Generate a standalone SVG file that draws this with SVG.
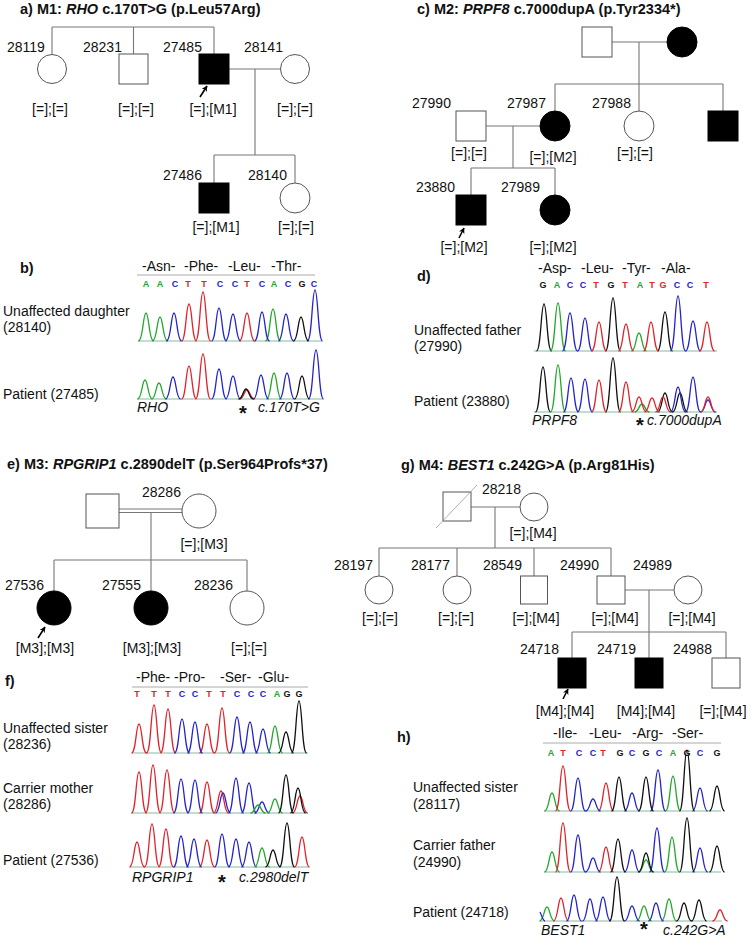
<svg xmlns="http://www.w3.org/2000/svg" width="751" height="940" viewBox="0 0 751 940">
<style>
text{font-family:"Liberation Sans",Arial,sans-serif;font-size:14px;fill:#111}
.ti{font-weight:bold;font-size:14.5px}
.it{font-style:italic}
.m{text-anchor:middle}
.bs{font-size:9px;font-weight:bold;text-anchor:middle}
.ast{font-size:20px;font-weight:bold;text-anchor:middle}
.sym{fill:#fff;stroke:#555;stroke-width:1}
.aff{fill:#000;stroke:#000;stroke-width:1}
.ln{stroke:#777;stroke-width:1.1;fill:none}
.sep{stroke:#aaa;stroke-width:1;fill:none}
.pk{fill:none;stroke-width:1.3;stroke-linejoin:round}
.G{stroke:#22a82a}.R{stroke:#e0232b}.B{stroke:#2424cc}.K{stroke:#111}
.g{fill:#22a82a}.r{fill:#e0232b}.b{fill:#2424cc}.k{fill:#111}
.bl{stroke:#6a8;stroke-width:0.8}
.arr{stroke:#000;stroke-width:1.6;fill:none}
</style>
<defs>
<marker id="ah" viewBox="0 0 10 10" refX="9" refY="5" markerWidth="6" markerHeight="6" markerUnits="userSpaceOnUse" orient="auto"><path d="M0 0L10 5L0 10L3 5z" fill="#000"/></marker>
</defs>

<!-- Panel titles -->
<g id="titles">
<text class="ti" x="20" y="14">a) M1: <tspan font-style="italic">RHO</tspan> c.170T&gt;G (p.Leu57Arg)</text>
<text class="ti" x="417" y="14">c) M2: <tspan font-style="italic">PRPF8</tspan> c.7000dupA (p.Tyr2334*)</text>
<text class="ti" x="7" y="469">e) M3: <tspan font-style="italic">RPGRIP1</tspan> c.2890delT (p.Ser964Profs*37)</text>
<text class="ti" x="401" y="470">g) M4: <tspan font-style="italic">BEST1</tspan> c.242G&gt;A (p.Arg81His)</text>
<text class="ti" x="20" y="273">b)</text>
<text class="ti" x="417" y="281">d)</text>
<text class="ti" x="5" y="686">f)</text>
<text class="ti" x="397" y="742">h)</text>
</g>

<!-- Connectors -->
<g id="connectors" class="ln">
<!-- a -->
<path d="M52 27H214M52 27V54.5M133.5 27V54M214 27V54"/>
<path d="M229 69H280.5M255 69V155M214 155H295M214 155V183M295 155V183"/>
<!-- c -->
<path d="M612 42H667M639 42V84M555 84H723M555 84V111M639 84V111M723 84V111"/>
<path d="M486 126H540M513 126V168M471 168H555M471 168V195M555 168V195"/>
<!-- e -->
<path d="M119 509H182M119 512.5H182M151 512.5V560M54 560H247M54 560V591M151 560V591M247 560V591"/>
<!-- g -->
<path d="M471 507H520M495 507V548M379 548H611M379 548V576M457 548V576M534 548V576M611 548V576"/>
<path d="M625 590H674M649 590V632M572 632H726M572 632V658M649 632V658M726 632V658"/>
</g>

<!-- Panel a nodes -->
<g id="a-28119"><circle class="sym" cx="52" cy="69" r="14.5"/><text x="7" y="52">28119</text><text class="m" x="50" y="114">[=];[=]</text></g>
<g id="a-28231"><rect class="sym" x="119" y="54" width="29" height="30"/><text x="83" y="52">28231</text><text class="m" x="136" y="114">[=];[=]</text></g>
<g id="a-27485"><rect class="aff" x="199" y="54" width="30" height="30"/><text x="163" y="52">27485</text><text class="m" x="213" y="114">[=];[M1]</text><line class="arr" x1="200" y1="97" x2="207" y2="86" marker-end="url(#ah)"/></g>
<g id="a-28141"><circle class="sym" cx="295" cy="69" r="14.5"/><text x="244" y="52">28141</text><text class="m" x="295" y="114">[=];[=]</text></g>
<g id="a-27486"><rect class="aff" x="199" y="183" width="30" height="30"/><text x="163" y="180">27486</text><text class="m" x="216" y="232">[=];[M1]</text></g>
<g id="a-28140"><circle class="sym" cx="295" cy="198" r="15"/><text x="248" y="180">28140</text><text class="m" x="296" y="232">[=];[=]</text></g>

<!-- Panel c nodes -->
<g id="c-grandfather"><rect class="sym" x="582" y="27" width="30" height="30"/></g>
<g id="c-grandmother"><circle class="aff" cx="682" cy="42" r="15"/></g>
<g id="c-27990"><rect class="sym" x="456" y="111" width="30" height="30"/><text x="412" y="108">27990</text><text class="m" x="469" y="158">[=];[=]</text></g>
<g id="c-27987"><circle class="aff" cx="555" cy="126" r="15"/><text x="507" y="108">27987</text><text class="m" x="553" y="162">[=];[M2]</text></g>
<g id="c-27988"><circle class="sym" cx="639" cy="126" r="15"/><text x="592" y="108">27988</text><text class="m" x="635" y="158">[=];[=]</text></g>
<g id="c-uncle"><rect class="aff" x="708" y="111" width="30" height="30"/></g>
<g id="c-23880"><rect class="aff" x="456" y="195" width="30" height="30"/><text x="416" y="192">23880</text><text class="m" x="464" y="252">[=];[M2]</text><line class="arr" x1="459" y1="238" x2="464" y2="228" marker-end="url(#ah)"/></g>
<g id="c-27989"><circle class="aff" cx="555" cy="210" r="15"/><text x="501" y="192">27989</text><text class="m" x="553" y="252">[=];[M2]</text></g>

<!-- Panel e nodes -->
<g id="e-father"><rect class="sym" x="86" y="494" width="33" height="34"/></g>
<g id="e-28286"><circle class="sym" cx="199" cy="511" r="17"/><text x="142" y="497">28286</text><text class="m" x="204" y="549">[=];[M3]</text></g>
<g id="e-27536"><circle class="aff" cx="54" cy="608" r="17"/><text x="5" y="590">27536</text><text class="m" x="45" y="653">[M3];[M3]</text><line class="arr" x1="38" y1="638" x2="45" y2="627" marker-end="url(#ah)"/></g>
<g id="e-27555"><circle class="aff" cx="151" cy="608" r="17"/><text x="102" y="590">27555</text><text class="m" x="152" y="653">[M3];[M3]</text></g>
<g id="e-28236"><circle class="sym" cx="247" cy="608" r="17"/><text x="194" y="590">28236</text><text class="m" x="249" y="653">[=];[=]</text></g>

<!-- Panel g nodes -->
<g id="g-grandfather"><rect class="sym" x="443" y="492" width="28" height="29"/><line x1="436" y1="528" x2="477" y2="485" stroke="#999" stroke-width="0.8"/></g>
<g id="g-28218"><circle class="sym" cx="534" cy="507" r="14"/><text x="482" y="494">28218</text><text class="m" x="533" y="538">[=];[M4]</text></g>
<g id="g-28197"><circle class="sym" cx="379" cy="590" r="14"/><text x="334" y="570">28197</text><text class="m" x="380" y="623">[=];[=]</text></g>
<g id="g-28177"><circle class="sym" cx="457" cy="590" r="14"/><text x="411" y="570">28177</text><text class="m" x="456" y="623">[=];[=]</text></g>
<g id="g-28549"><rect class="sym" x="520.5" y="576" width="27" height="28"/><text x="483" y="570">28549</text><text class="m" x="536" y="623">[=];[M4]</text></g>
<g id="g-24990"><rect class="sym" x="597" y="576" width="28" height="28"/><text x="560" y="570">24990</text><text class="m" x="615" y="623">[=];[M4]</text></g>
<g id="g-24989"><circle class="sym" cx="688" cy="590" r="14"/><text x="633" y="570">24989</text><text class="m" x="692" y="623">[=];[M4]</text></g>
<g id="g-24718"><rect class="aff" x="558" y="658" width="28" height="30"/><text x="520" y="654">24718</text><text class="m" x="565" y="716">[M4];[M4]</text><line class="arr" x1="563" y1="699" x2="568" y2="689" marker-end="url(#ah)"/></g>
<g id="g-24719"><rect class="aff" x="635" y="658" width="28" height="30"/><text x="597" y="654">24719</text><text class="m" x="646" y="716">[M4];[M4]</text></g>
<g id="g-24988"><rect class="sym" x="712" y="658" width="28" height="30"/><text x="673" y="654">24988</text><text class="m" x="723" y="716">[=];[M4]</text></g>

<!-- Panel b chromatograms -->
<g id="b-chrom">
<text x="142" y="271">-Asn-</text><text x="184" y="271">-Phe-</text><text x="228" y="271">-Leu-</text><text x="271" y="271">-Thr-</text>
<line class="sep" x1="137" y1="275" x2="315" y2="275"/>
<text class="bs g" x="146" y="287">A</text><text class="bs g" x="160" y="287">A</text><text class="bs b" x="175" y="287">C</text><text class="bs r" x="188" y="287">T</text><text class="bs r" x="204" y="287">T</text><text class="bs b" x="220" y="287">C</text><text class="bs b" x="235" y="287">C</text><text class="bs r" x="247" y="287">T</text><text class="bs b" x="262" y="287">C</text><text class="bs g" x="274" y="287">A</text><text class="bs b" x="288" y="287">C</text><text class="bs k" x="302" y="287">G</text><text class="bs b" x="314" y="287">C</text>
<text x="3" y="316">Unaffected daughter</text><text x="3" y="332">(28140)</text>
<text x="3" y="399">Patient (27485)</text>
<line class="bl" x1="138" y1="341" x2="322" y2="341"/>
<line class="bl" x1="137" y1="399" x2="323" y2="399"/>
<path class="pk G" d="M138.5 341C143 341 143 313 146 313S149 341 153.5 341M152.5 341C157 341 157 317 160 317S163 341 167.5 341M265.5 341C270 341 270 309 273 309S276 341 280.5 341"/>
<path class="pk B" d="M166.5 341C171 341 171 313 174 313S177 341 181.5 341M211.5 341C216 341 216 308 219 308S222 341 226.5 341M225.5 341C230 341 230 314 233 314S236 341 240.5 341M254.5 341C259 341 259 312 262 312S265 341 269.5 341M278.5 341C283 341 283 314 286 314S289 341 293.5 341M307.5 341C312 341 312 290 315 290S318 341 322.5 341"/>
<path class="pk R" d="M181.5 341C186 341 186 304 189 304S192 341 196.5 341M195.5 341C200 341 200 292 203 292S206 341 210.5 341M239.5 341C244 341 244 313 247 313S250 341 254.5 341"/>
<path class="pk K" d="M293.5 341C298 341 298 317 301 317S304 341 308.5 341"/>
<path class="pk G" d="M137.5 399C142 399 142 380 145 380S148 399 152.5 399M151.5 399C156 399 156 383 159 383S162 399 166.5 399M266.5 399C271 399 271 373 274 373S277 399 281.5 399"/>
<path class="pk B" d="M165.5 399C170 399 170 377 173 377S176 399 180.5 399M211.5 399C216 399 216 369 219 369S222 399 226.5 399M225.5 399C230 399 230 376 233 376S236 399 240.5 399M253.5 399C258 399 258 375 261 375S264 399 268.5 399M279.5 399C284 399 284 373 287 373S290 399 294.5 399M308.5 399C313 399 313 350 316 350S319 399 323.5 399"/>
<path class="pk R" d="M181.5 399C186 399 186 366 189 366S192 399 196.5 399M195.5 399C200 399 200 354 203 354S206 399 210.5 399M239.5 399C244 399 244 390 247 390S250 399 254.5 399"/>
<path class="pk K" d="M238.5 399C243 399 243 389 246 389S249 399 253.5 399M294.5 399C299 399 299 376 302 376S305 399 309.5 399"/>
<text class="it" x="137" y="412">RHO</text><text class="ast" x="243" y="419.5">*</text><text class="it" x="258" y="412">c.170T&gt;G</text>
</g>

<!-- Panel d chromatograms -->
<g id="d-chrom">
<text x="538" y="273">-Asp-</text><text x="581" y="273">-Leu-</text><text x="622" y="273">-Tyr-</text><text x="661" y="273">-Ala-</text>
<text class="bs k" x="543" y="288">G</text><text class="bs g" x="557" y="288">A</text><text class="bs b" x="570" y="288">C</text><text class="bs b" x="583" y="288">C</text><text class="bs r" x="596" y="288">T</text><text class="bs k" x="611" y="288">G</text><text class="bs r" x="625" y="288">T</text><text class="bs g" x="640" y="288">A</text><text class="bs r" x="652" y="288">T</text><text class="bs r" x="663" y="288">G</text><text class="bs b" x="677" y="288">C</text><text class="bs b" x="690" y="288">C</text><text class="bs r" x="706" y="288">T</text>
<text x="414" y="335">Unaffected father</text><text x="414" y="351">(27990)</text>
<text x="414" y="406">Patient (23880)</text>
<line class="bl" x1="534" y1="351" x2="717" y2="351"/>
<line class="bl" x1="534" y1="412" x2="717" y2="412"/>
<path class="pk K" d="M536.5 351C541 351 541 304 544 304S547 351 551.5 351M605.5 351C610 351 610 298 613 298S616 351 620.5 351M657.5 351C662 351 662 312 665 312S668 351 672.5 351"/>
<path class="pk G" d="M550.5 351C555 351 555 303 558 303S561 351 565.5 351M631.5 351C636 351 636 333 639 333S642 351 646.5 351"/>
<path class="pk B" d="M562.5 351C567 351 567 313 570 313S573 351 577.5 351M577.5 351C582 351 582 318 585 318S588 351 592.5 351M670.5 351C675 351 675 296 678 296S681 351 685.5 351M685.5 351C690 351 690 321 693 321S696 351 700.5 351"/>
<path class="pk R" d="M591.5 351C596 351 596 322 599 322S602 351 606.5 351M618.5 351C623 351 623 324 626 324S629 351 633.5 351M643.5 351C648 351 648 322 651 322S654 351 658.5 351M699.5 351C704 351 704 322 707 322S710 351 714.5 351"/>
<path class="pk K" d="M535.5 412C540 412 540 367 543 367S546 412 550.5 412M605.5 412C610 412 610 358 613 358S616 412 620.5 412M657.5 412C662 412 662 393 665 393S668 412 672.5 412M672.5 412C677 412 677 393 680 393S683 412 687.5 412"/>
<path class="pk G" d="M550.5 412C555 412 555 365 558 365S561 412 565.5 412M634.5 412C639 412 639 404 642 404S645 412 649.5 412"/>
<path class="pk B" d="M563.5 412C568 412 568 378 571 378S574 412 578.5 412M577.5 412C582 412 582 379 585 379S588 412 592.5 412M670.5 412C675 412 675 387 678 387S681 412 685.5 412M685.5 412C690 412 690 377 693 377S696 412 700.5 412M700.5 412C705 412 705 400 708 400S711 412 715.5 412"/>
<path class="pk R" d="M591.5 412C596 412 596 380 599 380S602 412 606.5 412M618.5 412C623 412 623 382 626 382S629 412 633.5 412M631.5 412C636 412 636 397 639 397S642 412 646.5 412M644.5 412C649 412 649 398 652 398S655 412 659.5 412M655.5 412C660 412 660 397 663 397S666 412 670.5 412M700.5 412C705 412 705 397 708 397S711 412 715.5 412"/>
<text class="it" x="532" y="425">PRPF8</text><text class="ast" x="640" y="432">*</text><text class="it" x="647" y="425">c.7000dupA</text>
</g>

<!-- Panel f chromatograms -->
<g id="f-chrom">
<text x="136" y="682">-Phe-</text><text x="174" y="682">-Pro-</text><text x="220" y="682">-Ser-</text><text x="258" y="682">-Glu-</text>
<line class="sep" x1="132" y1="687" x2="308" y2="687"/>
<text class="bs r" x="137" y="697">T</text><text class="bs r" x="154" y="697">T</text><text class="bs r" x="168" y="697">T</text><text class="bs b" x="182" y="697">C</text><text class="bs b" x="195" y="697">C</text><text class="bs r" x="209" y="697">T</text><text class="bs r" x="223" y="697">T</text><text class="bs b" x="237" y="697">C</text><text class="bs b" x="251" y="697">C</text><text class="bs b" x="263" y="697">C</text><text class="bs g" x="277" y="697">A</text><text class="bs k" x="287" y="697">G</text><text class="bs k" x="299" y="697">G</text>
<text x="3" y="733">Unaffected sister</text><text x="3" y="749">(28236)</text>
<text x="3" y="793">Carrier mother</text><text x="3" y="809">(28286)</text>
<text x="3" y="865">Patient (27536)</text>
<line class="bl" x1="132" y1="753" x2="308" y2="753"/>
<line class="bl" x1="131" y1="813" x2="308" y2="813"/>
<line class="bl" x1="130" y1="867" x2="309" y2="867"/>
<path class="pk R" d="M131.5 753C136 753 136 724 139 724S142 753 146.5 753M146.5 753C151 753 151 705 154 705S157 753 161.5 753M160.5 753C165 753 165 709 168 709S171 753 175.5 753M199.5 753C204 753 204 724 207 724S210 753 214.5 753M214.5 753C219 753 219 708 222 708S225 753 229.5 753"/>
<path class="pk B" d="M174.5 753C179 753 179 719 182 719S185 753 189.5 753M187.5 753C192 753 192 722 195 722S198 753 202.5 753M229.5 753C234 753 234 717 237 717S240 753 244.5 753M242.5 753C247 753 247 722 250 722S253 753 257.5 753M255.5 753C260 753 260 729 263 729S266 753 270.5 753"/>
<path class="pk G" d="M267.5 753C272 753 272 726 275 726S278 753 282.5 753"/>
<path class="pk K" d="M278.5 753C283 753 283 732 286 732S289 753 293.5 753M291.5 753C296 753 296 701 299 701S302 753 306.5 753"/>
<path class="pk R" d="M131.5 813C136 813 136 772 139 772S142 813 146.5 813M145.5 813C150 813 150 765 153 765S156 813 160.5 813M159.5 813C164 813 164 770 167 770S170 813 174.5 813M199.5 813C204 813 204 782 207 782S210 813 214.5 813M213.5 813C218 813 218 791 221 791S224 813 228.5 813M292.5 813C297 813 297 796 300 796S303 813 307.5 813"/>
<path class="pk B" d="M173.5 813C178 813 178 779 181 779S184 813 188.5 813M187.5 813C192 813 192 780 195 780S198 813 202.5 813M215.5 813C220 813 220 793 223 793S226 813 230.5 813M228.5 813C233 813 233 778 236 778S239 813 243.5 813M241.5 813C246 813 246 783 249 783S252 813 256.5 813M254.5 813C259 813 259 802 262 802S265 813 269.5 813"/>
<path class="pk G" d="M250.5 813C255 813 255 805 258 805S261 813 265.5 813M267.5 813C272 813 272 799 275 799S278 813 282.5 813"/>
<path class="pk K" d="M278.5 813C283 813 283 775 286 775S289 813 293.5 813M290.5 813C295 813 295 788 298 788S301 813 305.5 813"/>
<path class="pk R" d="M129.5 867C134 867 134 842 137 842S140 867 144.5 867M144.5 867C149 867 149 824 152 824S155 867 159.5 867M158.5 867C163 867 163 829 166 829S169 867 173.5 867M199.5 867C204 867 204 840 207 840S210 867 214.5 867M294.5 867C299 867 299 837 302 837S305 867 309.5 867"/>
<path class="pk B" d="M173.5 867C178 867 178 836 181 836S184 867 188.5 867M186.5 867C191 867 191 839 194 839S197 867 201.5 867M214.5 867C219 867 219 834 222 834S225 867 229.5 867M228.5 867C233 867 233 839 236 839S239 867 243.5 867M241.5 867C246 867 246 842 249 842S252 867 256.5 867"/>
<path class="pk G" d="M254.5 867C259 867 259 848 262 848S265 867 269.5 867"/>
<path class="pk K" d="M265.5 867C270 867 270 850 273 850S276 867 280.5 867M279.5 867C284 867 284 823 287 823S290 867 294.5 867"/>
<text class="it" x="132" y="882">RPGRIP1</text><text class="ast" x="222" y="889">*</text><text class="it" x="239" y="882">c.2980delT</text>
</g>

<!-- Panel h chromatograms -->
<g id="h-chrom">
<text x="553" y="738">-Ile-</text><text x="589" y="738">-Leu-</text><text x="632" y="738">-Arg-</text><text x="672" y="738">-Ser-</text>
<line class="sep" x1="543" y1="743" x2="721" y2="743"/>
<text class="bs g" x="551" y="756">A</text><text class="bs r" x="563" y="756">T</text><text class="bs b" x="579" y="756">C</text><text class="bs b" x="593" y="756">C</text><text class="bs r" x="603" y="756">T</text><text class="bs k" x="620" y="756">G</text><text class="bs b" x="632" y="756">C</text><text class="bs k" x="646" y="756">G</text><text class="bs b" x="659" y="756">C</text><text class="bs g" x="673" y="756">A</text><text class="bs k" x="687" y="756">G</text><text class="bs b" x="700" y="756">C</text><text class="bs k" x="717" y="756">G</text>
<text x="413" y="792">Unaffected sister</text><text x="413" y="809">(28117)</text>
<text x="413" y="850">Carrier father</text><text x="413" y="867">(24990)</text>
<text x="413" y="917">Patient (24718)</text>
<line class="bl" x1="544" y1="811" x2="721" y2="811"/>
<line class="bl" x1="544" y1="872" x2="721" y2="872"/>
<line class="bl" x1="540" y1="921" x2="722" y2="921"/>
<path class="pk G" d="M544.5 811C549 811 549 793 552 793S555 811 559.5 811M665.5 811C670 811 670 776 673 776S676 811 680.5 811"/>
<path class="pk R" d="M555.5 811C560 811 560 766 563 766S566 811 570.5 811M598.5 811C603 811 603 783 606 783S609 811 613.5 811"/>
<path class="pk B" d="M570.5 811C575 811 575 778 578 778S581 811 585.5 811M585.5 811C590 811 590 799 593 799S596 811 600.5 811M624.5 811C629 811 629 793 632 793S635 811 639.5 811M650.5 811C655 811 655 770 658 770S661 811 665.5 811M692.5 811C697 811 697 788 700 788S703 811 707.5 811"/>
<path class="pk K" d="M611.5 811C616 811 616 777 619 777S622 811 626.5 811M638.5 811C643 811 643 777 646 777S649 811 653.5 811M679.5 811C684 811 684 750 687 750S690 811 694.5 811M709.5 811C714 811 714 786 717 786S720 811 724.5 811"/>
<path class="pk G" d="M544.5 872C549 872 549 852 552 852S555 872 559.5 872M638.5 872C643 872 643 860 646 860S649 872 653.5 872M664.5 872C669 872 669 837 672 837S675 872 679.5 872"/>
<path class="pk R" d="M555.5 872C560 872 560 823 563 823S566 872 570.5 872M598.5 872C603 872 603 847 606 847S609 872 613.5 872"/>
<path class="pk B" d="M570.5 872C575 872 575 835 578 835S581 872 585.5 872M585.5 872C590 872 590 858 593 858S596 872 600.5 872M624.5 872C629 872 629 850 632 850S635 872 639.5 872M649.5 872C654 872 654 828 657 828S660 872 664.5 872M692.5 872C697 872 697 848 700 848S703 872 707.5 872"/>
<path class="pk K" d="M610.5 872C615 872 615 839 618 839S621 872 625.5 872M638.5 872C643 872 643 853 646 853S649 872 653.5 872M679.5 872C684 872 684 818 687 818S690 872 694.5 872M709.5 872C714 872 714 846 717 846S720 872 724.5 872"/>
<path class="pk G" d="M539.5 921C544 921 544 907 547 907S550 921 554.5 921M636.5 921C641 921 641 906 644 906S647 921 651.5 921M661.5 921C666 921 666 899 669 899S672 921 676.5 921"/>
<path class="pk R" d="M553.5 921C558 921 558 898 561 898S564 921 568.5 921M712.5 921C717 921 717 910 720 910S723 921 727.5 921"/>
<path class="pk B" d="M566.5 921C571 921 571 895 574 895S577 921 581.5 921M582.5 921C587 921 587 899 590 899S593 921 597.5 921M595.5 921C600 921 600 897 603 897S606 921 610.5 921M624.5 921C629 921 629 906 632 906S635 921 639.5 921M648.5 921C653 921 653 903 656 903S659 921 663.5 921M540 912C542 916 543 921 545 921"/>
<path class="pk K" d="M609.5 921C614 921 614 877 617 877S620 921 624.5 921M676.5 921C681 921 681 903 684 903S687 921 691.5 921M691.5 921C696 921 696 900 699 900S702 921 706.5 921"/>
<text class="it" x="541" y="935">BEST1</text><text class="ast" x="644" y="935.5">*</text><text class="it" x="663" y="935">c.242G&gt;A</text>
</g>
</svg>
